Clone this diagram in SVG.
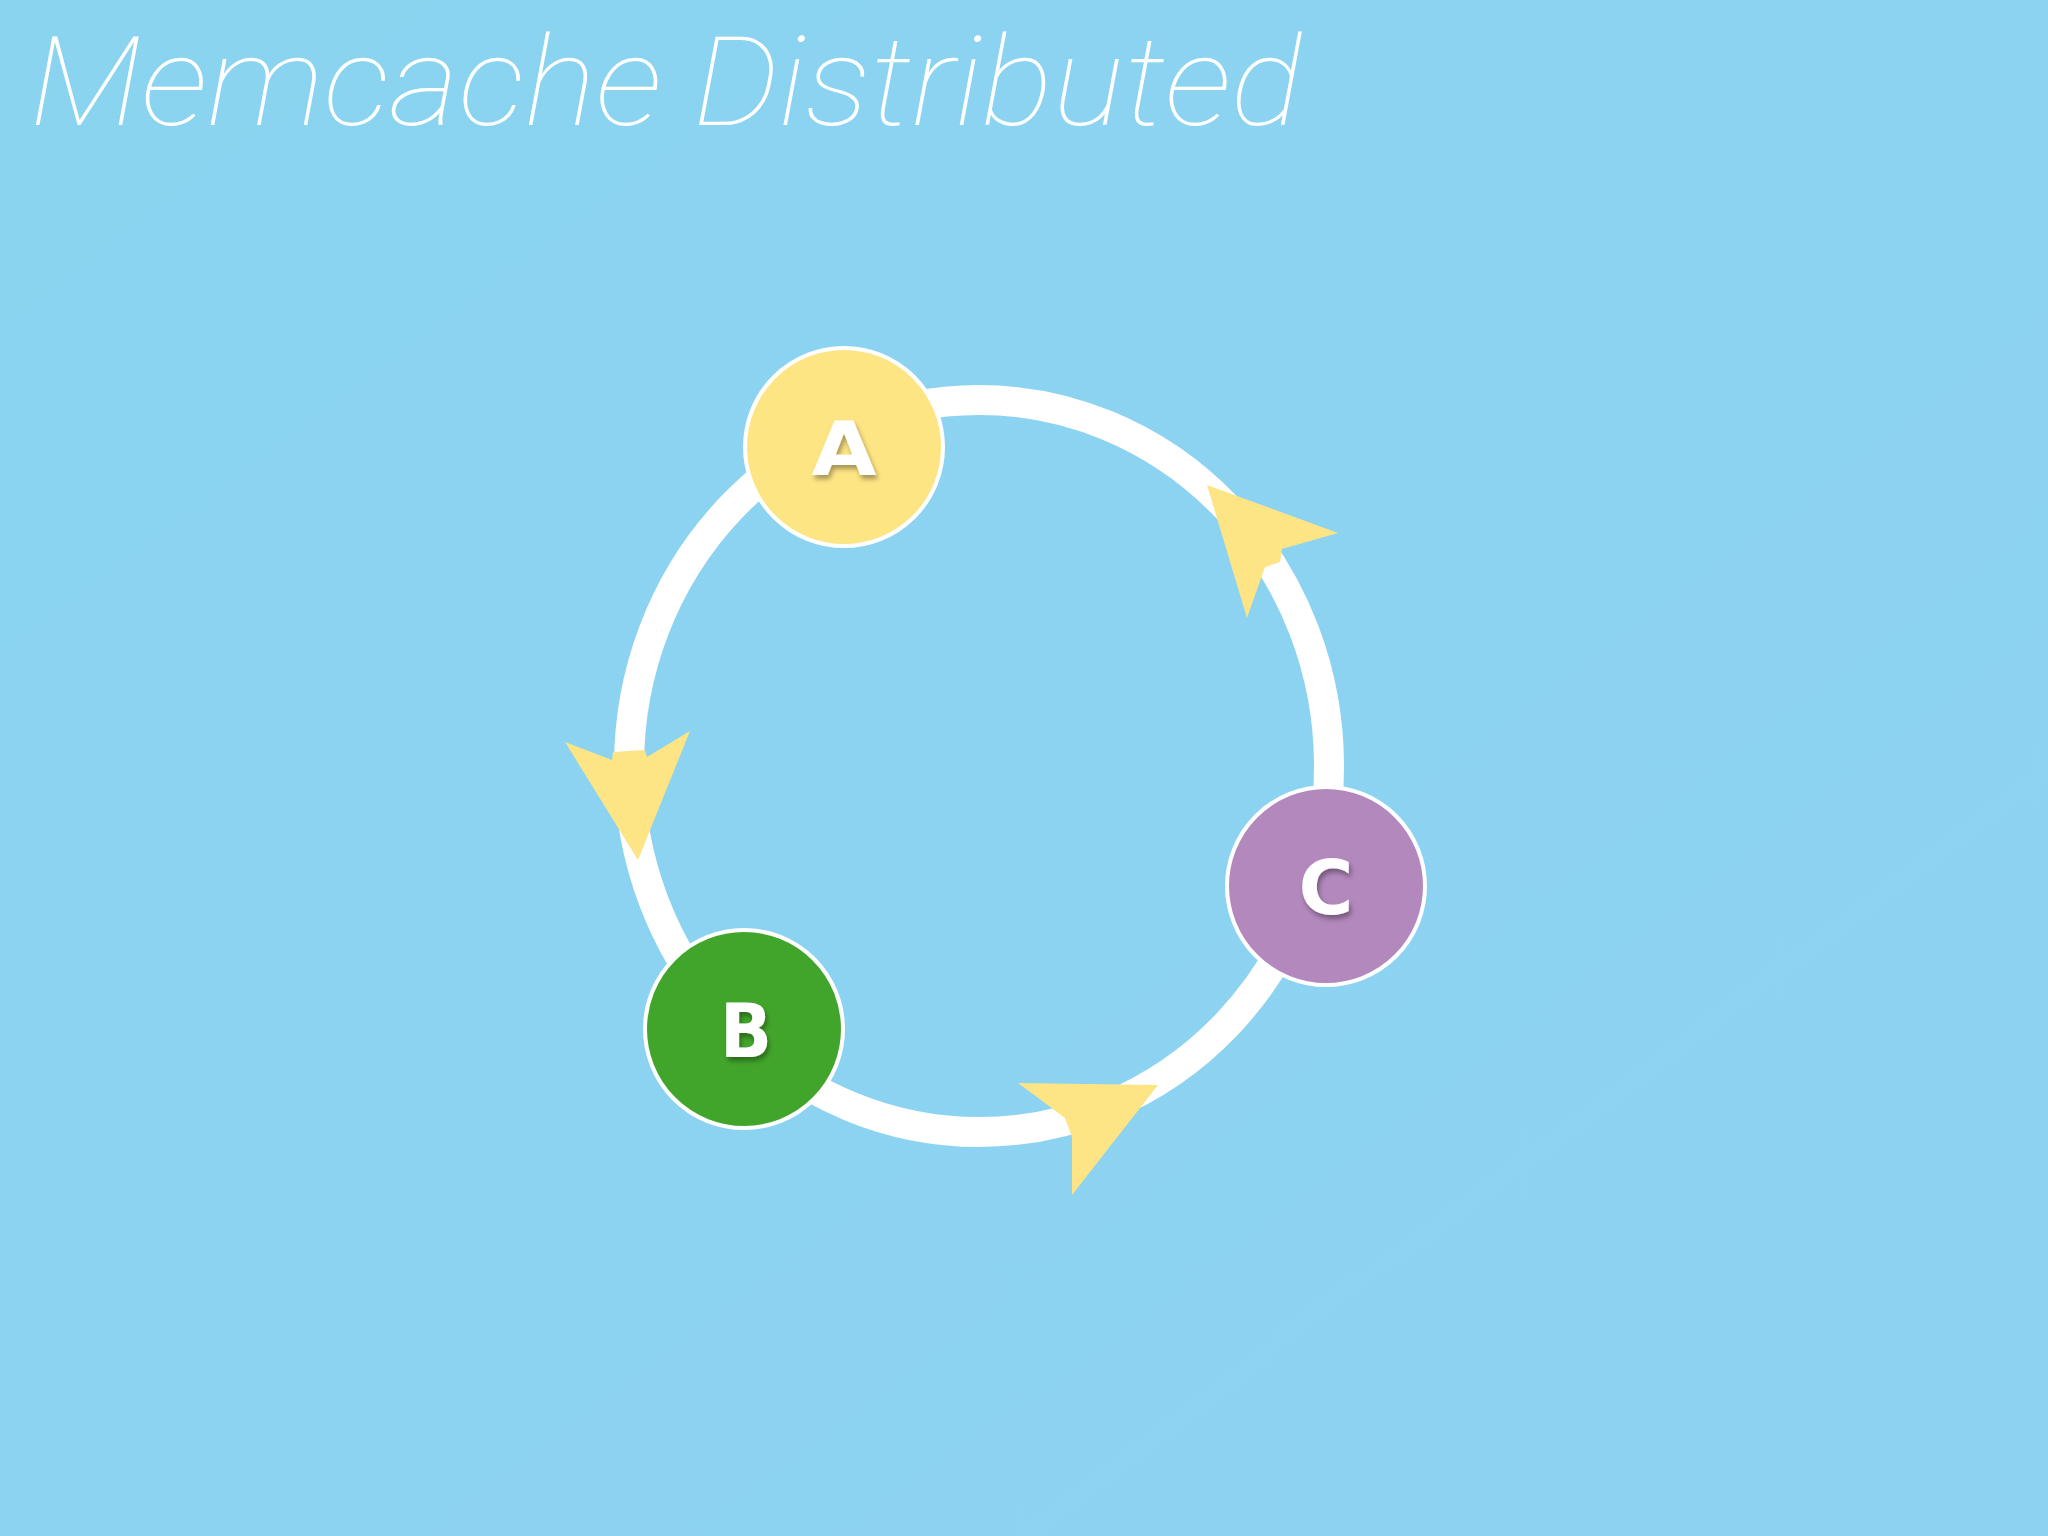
<svg xmlns="http://www.w3.org/2000/svg" width="2048" height="1536" viewBox="0 0 2048 1536">
  <defs>
    <filter id="shadow" x="-30%" y="-30%" width="160%" height="160%">
      <feDropShadow dx="2" dy="4" stdDeviation="2.5" flood-color="#000" flood-opacity="0.35"/>
    </filter>
    <linearGradient id="bg" x1="0" y1="0" x2="1" y2="1">
      <stop offset="0" stop-color="#8ad4f0"/>
      <stop offset="1" stop-color="#8ed2f2"/>
    </linearGradient>
  </defs>
  <style>
    .title { font-family: Roboto, "Liberation Sans", sans-serif; font-weight: 100; font-style: italic; font-size: 124px; fill: #ffffff; }
    .node { stroke: #ffffff; stroke-width: 4; }
    .label { font-family: "DejaVu Sans", "Liberation Sans", sans-serif; font-weight: bold; font-size: 75px; fill: #ffffff; text-anchor: middle; filter: url(#shadow); }
    .ring { fill: none; stroke: #ffffff; stroke-width: 30; }
    .arrow { fill: #fde484; }
  </style>
  <rect width="2048" height="1536" fill="url(#bg)"/>
  <text class="title" x="30" y="125" textLength="1272" lengthAdjust="spacingAndGlyphs">Memcache Distributed</text>
  <g id="connectors">
    <ellipse class="ring" cx="979" cy="766" rx="350" ry="366"/>
    <polygon class="arrow" points="1338,533 1282,549 1280,562 1265,567 1247,618 1207,485"/>
    <polygon class="arrow" points="565,742 612,760 613,752 645,750 647,757 690,731 638,860"/>
    <polygon class="arrow" points="1018,1083 1158,1085 1072,1195 1072,1137 1065,1118"/>
  </g>
  <g id="node-A">
    <circle class="node" cx="844" cy="447" r="99" fill="#fee584"/>
    <text class="label" x="844" y="475" textLength="65" lengthAdjust="spacingAndGlyphs">A</text>
  </g>
  <g id="node-B">
    <circle class="node" cx="744" cy="1029" r="99" fill="#42a52b"/>
    <text class="label" x="746" y="1057" textLength="52" lengthAdjust="spacingAndGlyphs">B</text>
  </g>
  <g id="node-C">
    <circle class="node" cx="1326" cy="886" r="99" fill="#b388bd"/>
    <text class="label" x="1326" y="914" textLength="55" lengthAdjust="spacingAndGlyphs">C</text>
  </g>
</svg>
